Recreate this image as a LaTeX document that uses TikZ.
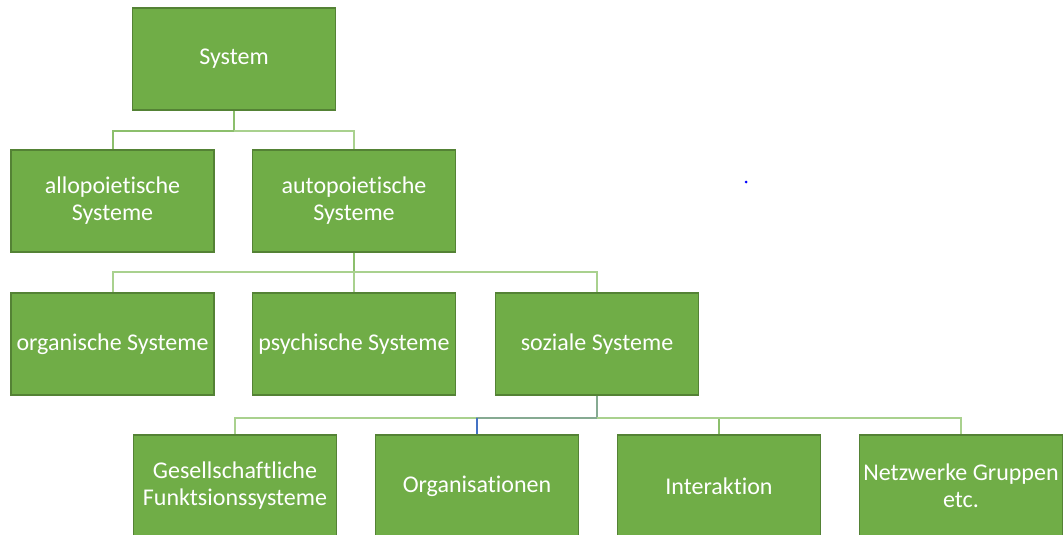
\documentclass[tikz,border=0pt]{standalone}
\usepackage{fontspec}
\setmainfont[Ligatures=NoCommon]{Carlito}
\definecolor{boxfill}{HTML}{70AD47}
\definecolor{boxline}{HTML}{548235}
\definecolor{conn}{HTML}{A9D18E}
\definecolor{conndark}{HTML}{8CBF6C}
\definecolor{connblue}{HTML}{4472C4}
\definecolor{connmix}{HTML}{86AA92}
\tikzset{
  sysbox/.style={draw=boxline, line width=1.2pt, fill=boxfill, text=white,
    minimum width=203pt, minimum height=102pt, inner sep=2pt, align=center,
    font=\fontsize{24}{27}\selectfont},
  link/.style={draw=conn, line width=2pt},
}
\begin{document}
\begin{tikzpicture}[x=1pt,y=-1pt]
\useasboundingbox (0,0) rectangle (1063,535);
\clip (0,0) rectangle (1063,535);
\coordinate (b1) at (234,131);
\coordinate (b2) at (354,272);
\coordinate (b3) at (597,418);
\node[sysbox] (sys)  at (234,59)  {System};
\node[sysbox] (allo) at (112.5,201) {allopoietische\\Systeme};
\node[sysbox] (auto) at (354,201) {autopoietische\\Systeme};
\node[sysbox] (org)  at (112.5,344) {organische Systeme};
\node[sysbox] (psy)  at (354,344) {psychische Systeme};
\node[sysbox] (soz)  at (597,344) {soziale Systeme};
\node[sysbox] (ges)  at (235,486) {Gesellschaftliche\\Funktsionssysteme};
\node[sysbox] (orga) at (477,486) {Organisationen};
\node[sysbox] (inter) at (719,486) {Interaktion};
\node[sysbox] (netz) at (961,486) {Netzwerke Gruppen\\etc.};
\draw[link, draw=conndark] (sys.south) -- (b1) -| (allo.north);
\draw[link] (b1) -| (auto.north);
\draw[link, draw=conndark] (auto.south) -- (b2);
\draw[link] (b2) -| (org.north);
\draw[link] (b2) -| (psy.north);
\draw[link] (b2) -| (soz.north);
\draw[link, draw=connmix] (soz.south) -- (b3);
\draw[link] (b3) -| (ges.north);
\draw[link, draw=connmix] (b3) -| (orga.north);
\draw[link, draw=connblue, line width=1.5pt] (orga.north) -- ++(0,-16);
\draw[link, draw=conndark] (b3) -| (inter.north);
\draw[link] (b3) -| (netz.north);
\fill[blue] (746,182) circle (1.5);
\end{tikzpicture}
\end{document}
